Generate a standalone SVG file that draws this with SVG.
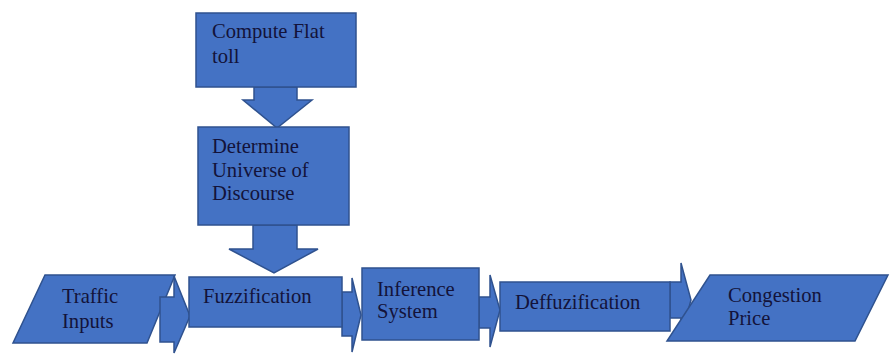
<svg xmlns="http://www.w3.org/2000/svg" width="890" height="354" viewBox="0 0 890 354">
<style>
.shape{fill:#4472C4;stroke:#2F528F;stroke-width:1.5;stroke-linejoin:miter}
.conn{fill:#4472C4;stroke:#2F528F;stroke-width:1.5;stroke-linejoin:miter}
.lbl{font-family:"Liberation Serif","Times New Roman",serif;font-size:20.6px;fill:#13133A}
</style>
<rect width="890" height="354" fill="#FFFFFF"/>
<g id="traffic-inputs">
<polygon class="shape" points="45,275 175,275 147,343 13,343"/>
<text class="lbl" x="62" y="303">Traffic</text>
<text class="lbl" x="62" y="328">Inputs</text>
</g>
<g id="connectors">
<polygon class="conn" points="254,87 297,87 297,100 312,100 277,128 243,100 254,100"/>
<polygon class="conn" points="253,225 297,225 297,249 318,249 274,273 229,249 253,249"/>
<polygon class="conn" points="160,297 174,297 174,276 190,316 174,353 174,342 160,342"/>
<polygon class="conn" points="342,292 352,292 352,278 361,315 352,352 352,336 342,336"/>
<polygon class="conn" points="479,297 490,297 490,275 500,310 490,347 490,328 479,328"/>
<polygon class="conn" points="670,282 681,282 681,263 691,300 681,337 681,318 670,318"/>
</g>
<g id="compute-flat-toll">
<rect class="shape" x="196" y="13" width="160" height="74"/>
<text class="lbl" x="212" y="38">Compute Flat</text>
<text class="lbl" x="212" y="63">toll</text>
</g>
<g id="determine-universe">
<rect class="shape" x="198" y="127" width="151" height="98"/>
<text class="lbl" x="212" y="153">Determine</text>
<text class="lbl" x="212" y="177">Universe of</text>
<text class="lbl" x="212" y="200">Discourse</text>
</g>
<g id="fuzzification">
<rect class="shape" x="189" y="277" width="153" height="50"/>
<text class="lbl" x="203" y="303">Fuzzification</text>
</g>
<g id="inference-system">
<rect class="shape" x="362" y="268" width="117" height="72"/>
<text class="lbl" x="377" y="296">Inference</text>
<text class="lbl" x="377" y="318">System</text>
</g>
<g id="deffuzification">
<rect class="shape" x="500" y="282" width="170" height="49"/>
<text class="lbl" x="515" y="309">Deffuzification</text>
</g>
<g id="congestion-price">
<polygon class="shape" points="710,275 888,275 855,341 667,341"/>
<text class="lbl" x="728" y="302">Congestion</text>
<text class="lbl" x="728" y="325">Price</text>
</g>
</svg>
